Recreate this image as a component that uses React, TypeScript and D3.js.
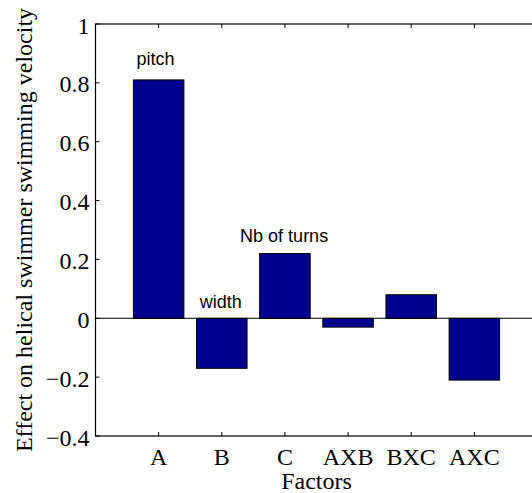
import React, { useEffect, useRef } from 'react'
import * as d3 from 'd3'

// factor effects
const factors = ['A', 'B', 'C', 'AXB', 'BXC', 'AXC']
const effects = [0.81, -0.17, 0.22, -0.03, 0.08, -0.21]
const yTicks = [-0.4, -0.2, 0, 0.2, 0.4, 0.6, 0.8, 1]

// text annotations anchored in data units (x = bar position, y = effect)
const notes = [
  { label: 'pitch', x: 0.65, y: 0.86 },
  { label: 'width', x: 1.65, y: 0.034 },
  { label: 'Nb of turns', x: 2.29, y: 0.26 },
]

const serif = '"Liberation Serif", "Times New Roman", serif'
const sans = '"Liberation Sans", Arial, sans-serif'

export default function App() {
  const svgRef = useRef<SVGSVGElement>(null)

  useEffect(() => {
    const svg = d3.select(svgRef.current)
    svg.selectAll('*').remove()

    const width = 532
    const height = 493
    const left = 95.5
    const right = 537.5
    const top = 24
    const bottom = 436

    const x = d3.scaleLinear().domain([0, 7]).range([left, right])
    const y = d3.scaleLinear().domain([-0.4, 1]).range([bottom, top])
    const barW = x(0.8) - x(0)
    const tick = 4

    svg.attr('width', width).attr('height', height)
    svg.append('rect').attr('width', width).attr('height', height).attr('fill', '#fff')

    // bars
    svg.selectAll('.bar')
      .data(effects)
      .join('rect')
      .attr('class', 'bar')
      .attr('x', (d, i) => x(i + 1) - barW / 2)
      .attr('width', barW)
      .attr('y', d => y(Math.max(0, d)))
      .attr('height', d => Math.abs(y(d) - y(0)))
      .attr('fill', '#00008f')
      .attr('stroke', '#000')
      .attr('stroke-width', 1)

    // baseline at zero
    svg.append('line')
      .attr('x1', left).attr('x2', right)
      .attr('y1', y(0)).attr('y2', y(0))
      .attr('stroke', '#000').attr('stroke-width', 1)

    // axes box
    svg.append('rect')
      .attr('x', left).attr('y', top)
      .attr('width', right - left).attr('height', bottom - top)
      .attr('fill', 'none').attr('stroke', '#000').attr('stroke-width', 1.2)

    // x ticks (bottom and top, inward)
    factors.forEach((f, i) => {
      const px = x(i + 1)
      svg.append('line').attr('x1', px).attr('x2', px)
        .attr('y1', bottom).attr('y2', bottom - tick).attr('stroke', '#000')
      svg.append('line').attr('x1', px).attr('x2', px)
        .attr('y1', top).attr('y2', top + tick).attr('stroke', '#000')
      svg.append('text')
        .attr('x', px).attr('y', bottom + 29)
        .attr('text-anchor', 'middle')
        .attr('font-family', serif).attr('font-size', 24)
        .attr('fill', '#000')
        .text(f)
    })

    // y ticks
    yTicks.forEach(t => {
      const py = y(t)
      svg.append('line').attr('x1', left).attr('x2', left + tick)
        .attr('y1', py).attr('y2', py).attr('stroke', '#000')
      svg.append('line').attr('x1', right).attr('x2', right - tick)
        .attr('y1', py).attr('y2', py).attr('stroke', '#000')
      svg.append('text')
        .attr('x', left - 6).attr('y', py + 9.5)
        .attr('text-anchor', 'end')
        .attr('font-family', serif).attr('font-size', 24)
        .attr('fill', '#000')
        .text(t === 0 ? '0' : String(t).replace('-', '\u2212'))
    })

    // annotations
    svg.selectAll('.note')
      .data(notes)
      .join('text')
      .attr('class', 'note')
      .attr('x', d => x(d.x))
      .attr('y', d => y(d.y))
      .attr('font-family', sans).attr('font-size', 18)
      .attr('fill', '#000')
      .text(d => d.label)

    // axis labels
    svg.append('text')
      .attr('x', (left + right) / 2).attr('y', 489)
      .attr('text-anchor', 'middle')
      .attr('font-family', serif).attr('font-size', 24)
      .attr('fill', '#000')
      .text('Factors')

    svg.append('text')
      .attr('transform', `translate(32,${(top + bottom) / 2}) rotate(-90)`)
      .attr('text-anchor', 'middle')
      .attr('font-family', serif).attr('font-size', 24)
      .attr('fill', '#000')
      .text('Effect on helical swimmer swimming velocity')
  }, [])

  return (
    <div style={{ position: 'absolute', left: 0, top: 0 }}>
      <svg ref={svgRef} style={{ display: 'block' }} />
    </div>
  )
}
